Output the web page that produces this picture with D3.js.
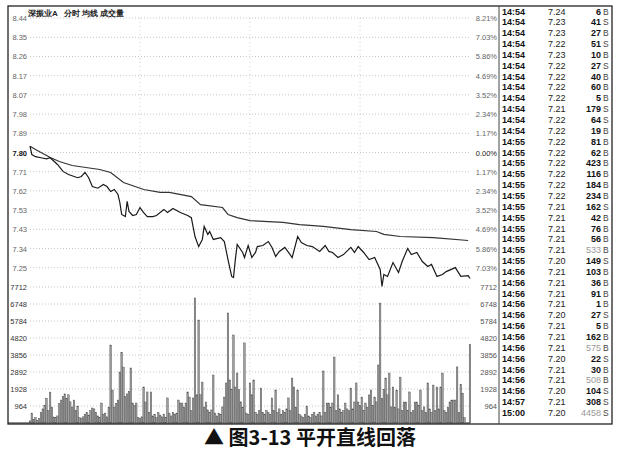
<!DOCTYPE html>
<html><head><meta charset="utf-8">
<script src="https://cdn.jsdelivr.net/npm/d3@7/dist/d3.min.js"></script>
<style>html,body{margin:0;padding:0;background:#fff;}svg{display:block;}</style>
</head><body>
<svg id="c" width="620" height="456"></svg>
<script>
// ---------- data ----------
const prevClose = 7.80;
const pctLevels = [8.21, 7.03, 5.86, 4.69, 3.52, 2.34, 1.17, 0, -1.17, -2.34, -3.52, -4.69, -5.86, -7.03];
const priceLabels = ["8.44","8.35","8.26","8.17","8.07","7.98","7.89","7.80","7.71","7.62","7.53","7.43","7.34","7.25"];
const pctLabels = ["8.21%","7.03%","5.86%","4.69%","3.52%","2.34%","1.17%","0.00%","1.17%","2.34%","3.52%","4.69%","5.86%","7.03%"];
const volTicks = [964, 1928, 2892, 3856, 4820, 5784, 6748, 7712];
const volMax = 7712;

// price line: [minute index from 9:30, price]
const priceSeries = [[0,7.83],[1,7.79],[3,7.78],[6,7.775],[9,7.77],[11,7.775],[15,7.743],[18,7.71],[21,7.695],[26,7.68],[28,7.686],[30,7.705],[32,7.68],[34,7.638],[37,7.63],[40,7.648],[42,7.638],[44,7.614],[46,7.624],[48,7.60],[49,7.562],[50,7.505],[52,7.495],[53,7.567],[54,7.519],[56,7.50],[58,7.505],[60,7.538],[62,7.514],[64,7.495],[67,7.495],[69,7.50],[73,7.529],[75,7.514],[78,7.533],[82,7.514],[86,7.50],[88,7.49],[90,7.40],[92,7.352],[94,7.386],[95,7.448],[97,7.41],[98,7.424],[100,7.386],[104,7.395],[106,7.376],[108,7.29],[110,7.21],[111,7.205],[112,7.29],[113,7.362],[116,7.324],[117,7.30],[119,7.357],[121,7.30],[123,7.324],[124,7.352],[127,7.357],[130,7.376],[132,7.348],[134,7.305],[136,7.329],[139,7.348],[141,7.324],[143,7.30],[146,7.40],[148,7.371],[151,7.357],[154,7.352],[158,7.329],[161,7.357],[163,7.329],[165,7.324],[168,7.30],[171,7.314],[175,7.348],[177,7.324],[179,7.352],[182,7.324],[185,7.29],[188,7.30],[191,7.243],[192,7.162],[193,7.219],[195,7.21],[198,7.276],[201,7.229],[203,7.281],[206,7.343],[208,7.314],[211,7.324],[214,7.281],[217,7.257],[219,7.267],[222,7.21],[225,7.219],[227,7.233],[232,7.252],[235,7.21],[239,7.214],[240,7.20]];

// average price line
const avgSeries = [[0,7.83],[3,7.814],[11,7.776],[16,7.757],[23,7.738],[38,7.719],[44,7.705],[51,7.657],[62,7.624],[71,7.61],[76,7.61],[88,7.59],[93,7.552],[105,7.538],[108,7.505],[113,7.49],[120,7.476],[138,7.467],[147,7.457],[160,7.448],[175,7.433],[189,7.424],[193,7.41],[202,7.40],[220,7.395],[239,7.381]];

// volume per minute (241 minutes)
const volumes = [120,560,200,300,150,250,600,800,1000,1400,
700,1750,900,340,300,400,1100,1300,1500,1650,
1400,1600,1200,900,1300,700,960,300,250,350,
500,600,450,700,850,800,600,400,300,1130,
500,560,350,900,4420,1870,900,1100,1300,2890,
4000,3170,1500,1650,1800,3120,1130,1000,1130,300,
250,350,2040,1190,1760,600,1760,400,500,300,
600,450,350,500,300,1420,560,400,600,500,
560,1300,1130,1130,900,1130,1760,1470,700,1420,
7090,1600,5840,1600,2320,900,1190,740,600,740,
2720,560,400,560,500,910,1470,2270,6240,2440,
1900,4990,2040,2835,1900,1200,900,4540,560,500,
2270,1600,2440,600,500,700,1980,600,500,700,
600,500,1420,700,1870,600,800,500,700,600,
800,1420,700,2550,2040,900,1870,500,400,300,
500,960,400,300,500,600,400,500,600,400,
2950,600,1130,1130,900,1130,3740,700,1600,800,
600,700,1130,800,700,1980,800,1190,2270,1190,
1000,1470,700,1130,900,1590,1870,1000,1470,1200,
3290,6800,1400,1900,2550,1600,2830,910,2040,900,
1870,800,2600,700,1190,1190,700,1760,600,700,
1190,1190,1000,1870,700,910,600,2270,800,600,
2150,700,2040,800,2040,2830,700,600,900,1190,
1300,1300,1300,3180,600,2200,1664,308,0,0,
4458];

// tick-by-tick table
const tTimes = ["14:54","14:54","14:54","14:54","14:54","14:54","14:54","14:54","14:54","14:54","14:54","14:54",
"14:55","14:55","14:55","14:55","14:55","14:55","14:55","14:55","14:55","14:55","14:55","14:55",
"14:56","14:56","14:56","14:56","14:56","14:56","14:56","14:56","14:56","14:56","14:56","14:56","14:57","15:00"];
const tPrices = ["7.24","7.23","7.23","7.22","7.23","7.22","7.22","7.22","7.22","7.21","7.22","7.22",
"7.22","7.22","7.22","7.22","7.22","7.22","7.21","7.21","7.21","7.21","7.21","7.20",
"7.21","7.21","7.21","7.21","7.20","7.21","7.21","7.21","7.20","7.21","7.21","7.20","7.21","7.20"];
const tVols = [6,41,27,51,10,27,40,60,5,179,64,19,81,62,423,116,184,234,162,42,76,56,533,149,
103,36,91,1,27,5,162,575,22,30,508,104,308,4458];
const tSides = ["B","S","B","S","B","S","B","B","B","S","S","B","B","B","B","B","B","B","S","B","B","B","B","S",
"B","B","B","B","S","B","B","B","S","B","B","S","S","S"];
const tLarge = [false,false,false,false,false,false,false,false,false,false,false,false,false,false,false,false,false,false,false,false,false,false,true,false,
false,false,false,false,false,false,false,true,false,false,true,false,false,true];

const headerText = "深振业A";
const headerMenu = "分时 均线 成交量";
const caption = "▲ 图3-13 平开直线回落";

// ---------- layout ----------
const svg = d3.select("#c");
const X0 = 30, X1 = 470;
const PY0 = 18, PY1 = 287, VY1 = 423;
const x = d3.scaleLinear().domain([0, 240]).range([X0, X1]);
const pTop = prevClose * (1 + 8.21/100), pBot = prevClose * (1 - 8.21/100);
const y = d3.scaleLinear().domain([pBot, pTop]).range([PY1, PY0]);
const yv = d3.scaleLinear().domain([0, volMax]).range([VY1, PY1]);
const font = "'Liberation Sans', Arial, sans-serif";

// frame
svg.append("rect").attr("x", 8).attr("y", 6).attr("width", 604).attr("height", 418)
  .attr("fill", "none").attr("stroke", "#222").attr("stroke-width", 1.3);
svg.append("line").attr("x1", 499).attr("x2", 499).attr("y1", 6).attr("y2", 424)
  .attr("stroke", "#444").attr("stroke-width", 1);

// grid
const g = svg.append("g");
pctLevels.forEach((pc, i) => {
  const yy = y(prevClose * (1 + pc/100));
  g.append("line").attr("x1", X0).attr("x2", X1).attr("y1", yy).attr("y2", yy)
    .attr("stroke", "#b8b8b8").attr("stroke-width", 0.8).attr("stroke-dasharray", "1,2");
  g.append("text").attr("x", 27).attr("y", yy + 3).attr("text-anchor", "end")
    .attr("font-family", font).attr("font-size", 7.5)
    .attr("fill", pc === 0 ? "#111" : "#666").attr("font-weight", pc === 0 ? "bold" : "normal")
    .text(priceLabels[i]);
  g.append("text").attr("x", 497).attr("y", yy + 3).attr("text-anchor", "end")
    .attr("font-family", font).attr("font-size", 7.5).attr("fill", pc === 0 ? "#222" : "#666")
    .text(pctLabels[i]);
});
volTicks.forEach(v => {
  const yy = yv(v);
  g.append("line").attr("x1", X0).attr("x2", X1).attr("y1", yy).attr("y2", yy)
    .attr("stroke", "#b8b8b8").attr("stroke-width", 0.8).attr("stroke-dasharray", "1,2");
  g.append("text").attr("x", 27).attr("y", yy + 3).attr("text-anchor", "end")
    .attr("font-family", font).attr("font-size", 7.5).attr("fill", "#333").text(v);
  g.append("text").attr("x", 497).attr("y", yy + 3).attr("text-anchor", "end")
    .attr("font-family", font).attr("font-size", 7.5).attr("fill", "#555").text(v);
});
[60, 120, 180].forEach(m => {
  g.append("line").attr("x1", x(m)).attr("x2", x(m)).attr("y1", PY0).attr("y2", VY1)
    .attr("stroke", "#c4c4c4").attr("stroke-width", 0.8).attr("stroke-dasharray", "1,3");
});
svg.append("line").attr("x1", 8).attr("x2", X1).attr("y1", VY1).attr("y2", VY1)
  .attr("stroke", "#222").attr("stroke-width", 1.2);

// header
svg.append("text").attr("x", 28).attr("y", 16).attr("font-family", font).attr("font-size", 8)
  .attr("font-weight", "bold").attr("fill", "#222").text(headerText);
svg.append("text").attr("x", 64).attr("y", 16).attr("font-family", font).attr("font-size", 8)
  .attr("font-weight", "bold").attr("fill", "#222").text(headerMenu);

// volume bars
svg.append("g").selectAll("rect").data(volumes).join("rect")
  .attr("x", (d, i) => x(i) - 0.8).attr("width", 1.5)
  .attr("y", d => yv(d)).attr("height", d => VY1 - yv(d))
  .attr("fill", "#a0a0a0").attr("stroke", "#4a4a4a").attr("stroke-width", 0.45);

// lines
const line = d3.line().x(d => x(d[0])).y(d => y(d[1]));
svg.append("path").datum(avgSeries).attr("d", line).attr("fill", "none")
  .attr("stroke", "#333").attr("stroke-width", 1.2);
svg.append("path").datum(priceSeries).attr("d", line).attr("fill", "none")
  .attr("stroke", "#1a1a1a").attr("stroke-width", 1.2);

// table
const rowY = d3.scaleLinear().domain([0, tTimes.length - 1]).range([14.5, 416]);
const tg = svg.append("g").attr("font-family", font).attr("font-size", 9);
tTimes.forEach((t, i) => {
  const yy = rowY(i);
  tg.append("text").attr("x", 502).attr("y", yy).attr("font-weight", "bold").attr("fill", "#111").text(t);
  tg.append("text").attr("x", 548).attr("y", yy).attr("fill", "#222").text(tPrices[i]);
  tg.append("text").attr("x", 601).attr("y", yy).attr("text-anchor", "end")
    .attr("font-weight", tLarge[i] ? "normal" : "bold").attr("fill", tLarge[i] ? "#999" : "#111").text(tVols[i]);
  tg.append("text").attr("x", 603).attr("y", yy).attr("font-size", 8.5).attr("fill", "#444").text(tSides[i]);
});

// caption
svg.append("text").attr("x", 310).attr("y", 445).attr("text-anchor", "middle")
  .attr("font-family", "'Noto Sans CJK SC', sans-serif").attr("font-size", 20).attr("font-weight", "bold")
  .attr("fill", "#111").text(caption);
</script>
</body></html>
